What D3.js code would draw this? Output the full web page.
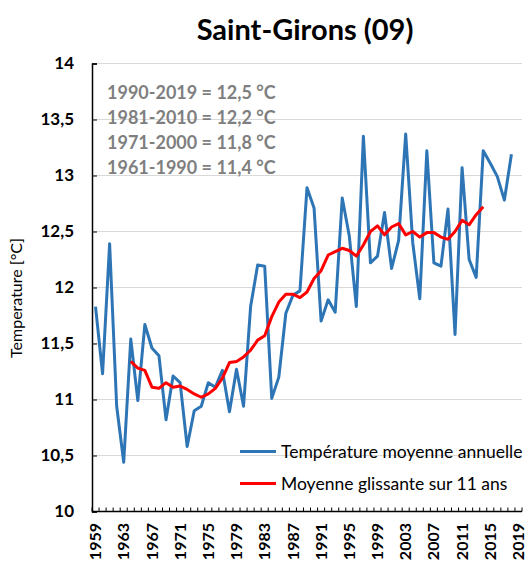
<!DOCTYPE html>
<html lang="fr">
<head>
  <meta charset="utf-8">
  <title>Saint-Girons (09)</title>
  <script src="https://d3js.org/d3.v7.min.js" charset="utf-8"></script>
  <style>
    body { margin: 0; background: white; }
    svg text { font-family: Lato, "Open Sans", sans-serif; }
  </style>
</head>
<body>
<svg id="chart" width="528" height="561"></svg>
<script>
  // categories (x axis) : 1959 -> 2019
  var years = [1959, 1960, 1961, 1962, 1963, 1964, 1965, 1966, 1967, 1968,
               1969, 1970, 1971, 1972, 1973, 1974, 1975, 1976, 1977, 1978,
               1979, 1980, 1981, 1982, 1983, 1984, 1985, 1986, 1987, 1988,
               1989, 1990, 1991, 1992, 1993, 1994, 1995, 1996, 1997, 1998,
               1999, 2000, 2001, 2002, 2003, 2004, 2005, 2006, 2007, 2008,
               2009, 2010, 2011, 2012, 2013, 2014, 2015, 2016, 2017, 2018,
               2019];
  var tickYears = [1959, 1963, 1967, 1971, 1975, 1979, 1983, 1987, 1991, 1995, 1999, 2003, 2007, 2011, 2015, 2019];

  // température moyenne annuelle, 1959 -> 2018
  var tempAnnual = [11.83, 11.23, 12.39, 10.94, 10.44, 11.54, 10.99, 11.67, 11.46, 11.39,
                    10.82, 11.21, 11.15, 10.58, 10.90, 10.94, 11.15, 11.11, 11.26, 10.89,
                    11.27, 10.94, 11.83, 12.20, 12.19, 11.01, 11.20, 11.77, 11.93, 11.97,
                    12.89, 12.71, 11.70, 11.89, 11.78, 12.80, 12.46, 11.83, 13.35, 12.22,
                    12.28, 12.67, 12.17, 12.42, 13.37, 12.40, 11.90, 13.22, 12.22, 12.19,
                    12.70, 11.58, 13.07, 12.25, 12.09, 13.22, 13.11, 12.99, 12.78, 13.19];
  var tempStart = 1959;

  // moyenne glissante sur 11 ans, 1964 -> 2014
  var movingAvg = [11.34, 11.28, 11.26, 11.11, 11.10, 11.15, 11.11, 11.12, 11.09, 11.05,
                   11.02, 11.05, 11.10, 11.19, 11.33, 11.34, 11.38, 11.44, 11.53, 11.57,
                   11.74, 11.87, 11.94, 11.94, 11.91, 11.96, 12.08, 12.15, 12.29, 12.32,
                   12.35, 12.33, 12.28, 12.38, 12.50, 12.55, 12.47, 12.54, 12.57, 12.47,
                   12.50, 12.45, 12.49, 12.49, 12.45, 12.43, 12.50, 12.60, 12.56, 12.65,
                   12.72];
  var avgStart = 1964;

  var yTicks = [10, 10.5, 11, 11.5, 12, 12.5, 13, 13.5, 14];
  var normals = ["1990-2019 = 12,5 °C", "1981-2010 = 12,2 °C", "1971-2000 = 11,8 °C", "1961-1990 = 11,4 °C"];
  var seriesNames = ["Température moyenne annuelle", "Moyenne glissante sur 11 ans"];

  var blue = "#2e75b6", red = "#ff0000";

  var svg = d3.select("#chart"),
      plotLeft = 92, plotRight = 522, plotTop = 63.5, plotBottom = 511.5;

  var xScale = d3.scaleBand().domain(years).range([plotLeft, plotRight]),
      yScale = d3.scaleLinear().domain([10, 14]).range([plotBottom, plotTop]);

  function xPos(yr) { return xScale(yr) + xScale.bandwidth() / 2; }

  // title
  svg.append("text")
     .attr("x", 305)
     .attr("y", 40)
     .attr("text-anchor", "middle")
     .attr("font-size", "29px")
     .attr("font-weight", "bold")
     .text("Saint-Girons (09)");

  // gridlines
  svg.append("g")
     .selectAll("line")
     .data(yTicks)
     .enter().append("line")
     .attr("x1", plotLeft)
     .attr("x2", plotRight)
     .attr("y1", function(d) { return yScale(d); })
     .attr("y2", function(d) { return yScale(d); })
     .attr("stroke", "#d9d9d9")
     .attr("stroke-width", 1);

  // y axis
  var yAxis = svg.append("g")
     .attr("transform", "translate(" + plotLeft + ",0)")
     .call(d3.axisRight(yScale).tickValues(yTicks).tickSize(5).tickFormat(""));
  yAxis.select(".domain").attr("stroke", "#000").attr("stroke-width", 1.5);
  yAxis.selectAll(".tick line").attr("stroke", "#000").attr("stroke-width", 1);

  svg.append("g")
     .selectAll("text")
     .data(yTicks)
     .enter().append("text")
     .attr("x", 74)
     .attr("y", function(d) { return yScale(d); })
     .attr("dy", "0.35em")
     .attr("text-anchor", "end")
     .attr("font-size", "17px")
     .attr("font-weight", "bold")
     .text(function(d) { return String(d).replace(".", ","); });

  svg.append("text")
     .attr("transform", "translate(22," + 298 + ") rotate(-90)")
     .attr("text-anchor", "middle")
     .attr("font-size", "16px")
     .text("Temperature [°C]");

  // x axis
  var xAxis = svg.append("g")
     .attr("transform", "translate(0," + plotBottom + ")");
  xAxis.append("line")
     .attr("x1", plotLeft).attr("x2", plotRight)
     .attr("stroke", "#000").attr("stroke-width", 1.5);
  xAxis.selectAll(".xtick")
     .data(years.concat(["end"]))
     .enter().append("line")
     .attr("class", "xtick")
     .attr("x1", function(d) { return d === "end" ? plotRight : xScale(d); })
     .attr("x2", function(d) { return d === "end" ? plotRight : xScale(d); })
     .attr("y1", 0).attr("y2", -4)
     .attr("stroke", "#000").attr("stroke-width", 1);

  svg.append("g")
     .selectAll("text")
     .data(tickYears)
     .enter().append("text")
     .attr("transform", function(d) { return "translate(" + xPos(d) + ",523) rotate(-90)"; })
     .attr("dy", "0.35em")
     .attr("text-anchor", "end")
     .attr("font-size", "16px")
     .attr("font-weight", "bold")
     .text(function(d) { return d; });

  // normals
  svg.append("g")
     .selectAll("text")
     .data(normals)
     .enter().append("text")
     .attr("x", 107)
     .attr("y", function(d, i) { return 99 + i * 25; })
     .attr("font-size", "18px")
     .attr("font-weight", "bold")
     .attr("fill", "#7f7f7f")
     .text(function(d) { return d; });

  // lines
  var line = d3.line()
     .x(function(d) { return xPos(d.year); })
     .y(function(d) { return yScale(d.value); });

  var annualData = tempAnnual.map(function(v, i) { return {year: tempStart + i, value: v}; });
  var avgData = movingAvg.map(function(v, i) { return {year: avgStart + i, value: v}; });

  svg.append("path")
     .datum(annualData)
     .attr("fill", "none")
     .attr("stroke", blue)
     .attr("stroke-width", 3)
     .attr("stroke-linejoin", "round")
     .attr("d", line);

  svg.append("path")
     .datum(avgData)
     .attr("fill", "none")
     .attr("stroke", red)
     .attr("stroke-width", 3)
     .attr("stroke-linejoin", "round")
     .attr("d", line);

  // legend
  var legend = svg.append("g")
     .selectAll("g")
     .data(seriesNames)
     .enter().append("g")
     .attr("transform", function(d, i) { return "translate(240," + (451.5 + i * 32) + ")"; });
  legend.append("line")
     .attr("x1", 0).attr("x2", 36)
     .attr("stroke", function(d, i) { return i === 0 ? blue : red; })
     .attr("stroke-width", 3);
  legend.append("text")
     .attr("x", 41)
     .attr("dy", "0.35em")
     .attr("font-size", "17.5px")
     .text(function(d) { return d; });
</script>
</body>
</html>
